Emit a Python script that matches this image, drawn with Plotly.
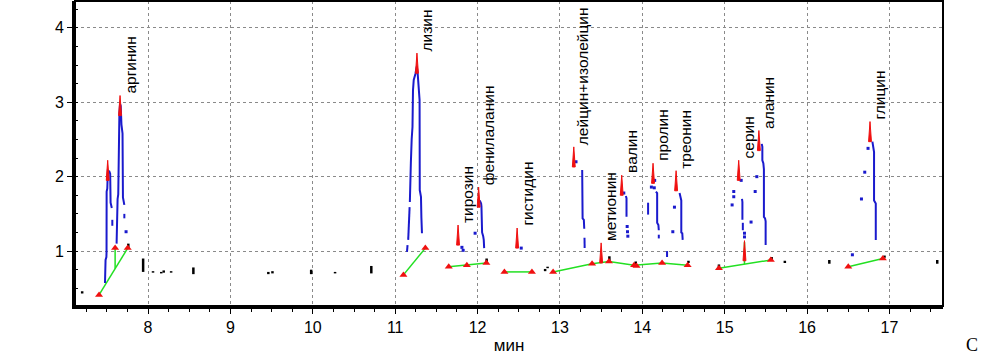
import numpy as np
import plotly.graph_objects as go

# ---------------- data ----------------
labels = ["аргинин", "лизин", "тирозин", "фенилаланин", "гистидин", "лейцин+изолейцин",
          "метионин", "валин", "пролин", "треонин", "серин", "аланин", "глицин"]
label_t = [7.66, 11.264, 11.763, 12.013, 12.48, 13.168, 13.50, 13.75, 14.13, 14.41, 15.17, 15.415, 16.764]
label_y = [3.09, 3.66, 1.35, 1.86, 1.31, 2.40, 1.11, 2.02, 2.18, 2.08, 2.22, 2.62, 2.74]

# unlabelled apex spikes
extra_spike_t = [7.51, 15.24]
extra_spike_y = [2.22, 1.14]

# blue detector traces
arg1_t = [7.477, 7.480, 7.484, 7.494, 7.496, 7.497, 7.505, 7.508, 7.512, 7.53, 7.54, 7.545, 7.55, 7.56, None, 7.566, 7.566]
arg1_y = [0.57, 0.75, 0.88, 0.92, 0.99, 1.80, 1.84, 1.95, 2.08, 2.07, 2.04, 1.65, 1.62, 1.58, None, 1.42, 1.34]
arg2_t = [7.618, 7.622, 7.63, 7.638, 7.645, 7.652, 7.66, 7.668, 7.677, 7.685, 7.69, 7.695, 7.705, 7.712, None, 7.712, 7.712]
arg2_y = [1.10, 1.62, 1.70, 1.76, 2.60, 2.85, 2.98, 2.95, 2.70, 2.62, 2.58, 1.72, 1.68, 1.62, None, 1.50, 1.44]
liz_t = [11.143, 11.150, None, 11.158, 11.165, 11.175, None, 11.178, 11.183, 11.19, 11.20, 11.21, 11.216, 11.225, 11.245,
         11.256, 11.262, 11.272, 11.285, 11.296, 11.298, 11.306, 11.313, 11.318, 11.325]
liz_y = [0.99, 1.08, None, 1.15, 1.35, 1.59, None, 1.66, 2.04, 2.18, 2.50, 2.67, 3.16, 3.30, 3.38,
         3.43, 3.48, 3.40, 3.25, 3.03, 1.82, 1.78, 1.73, 1.45, 1.24]
phe_t = [12.026, 12.043, 12.047, 12.055, 12.068, 12.075, 12.08]
phe_y = [1.68, 1.64, 1.60, 1.25, 1.20, 1.15, 1.04]
leu_t = [13.27, 13.275, 13.29, 13.295, None, 13.298, 13.30]
leu_y = [2.09, 1.44, 1.42, 1.30, None, 1.18, 1.04]
val_t = [13.80, 13.808, 13.808]
val_y = [1.74, 1.71, 1.46]
pro_t = [14.165, 14.18, 14.18, 14.195, 14.20, None, 14.20, 14.20, None, 14.07, 14.07, None, 14.30, 14.30]
pro_y = [1.80, 1.78, 1.38, 1.35, 1.28, None, 1.22, 1.17, None, 1.65, 1.49, None, 0.92, 1.00]
thr_t = [14.452, 14.462, 14.473, 14.473, 14.485, 14.49]
thr_y = [1.78, 1.72, 1.68, 1.25, 1.24, 1.15]
ser_t = [15.21, 15.215, 15.215, None, 15.22, 15.22]
ser_y = [1.70, 1.66, 1.42, None, 1.38, 1.28]
ala_t = [15.45, 15.457, 15.457, 15.469, 15.476, 15.476, 15.49, 15.497, 15.497]
ala_y = [2.44, 2.40, 2.22, 2.18, 2.10, 1.46, 1.44, 1.40, 1.08]
gly_t = [16.793, 16.80, 16.813, 16.813, 16.825, 16.834, 16.834]
gly_y = [2.47, 2.40, 2.33, 1.68, 1.66, 1.64, 1.15]

# isolated blue points
dot_t = [7.733, 11.81, 11.825, 11.97, 12.53, 13.195, 13.775, 13.816, 13.82, 13.824, 14.15, 14.11, 14.145,
         14.39, 14.37, 15.20, 15.11, 15.11, 15.09, 15.32, 15.37, 15.39, 15.24, 15.24,
         16.74, 16.70, 16.66, 16.55]
dot_y = [1.26, 1.05, 1.01, 1.24, 1.04, 2.20, 1.78, 1.33, 1.26, 1.20, 1.95, 1.86, 1.85,
         1.59, 1.26, 1.95, 1.80, 1.73, 1.62, 1.39, 1.80, 2.00, 1.24, 1.19,
         2.38, 2.06, 1.70, 0.95]

# green baselines (each a polyline)
base1_t, base1_y = [7.405, 7.753], [0.41, 1.04]
base2_t, base2_y = [11.10, 11.366], [0.68, 1.04]
base3_t, base3_y = [11.65, 11.87, 12.107], [0.79, 0.81, 0.84]
base4_t, base4_y = [12.326, 12.66], [0.72, 0.72]
base5_t, base5_y = [12.917, 13.39, 13.595, 13.90, 14.24, 14.55], [0.72, 0.83, 0.86, 0.81, 0.84, 0.81]
base6_t, base6_y = [14.93, 15.56], [0.77, 0.88]
base7_t, base7_y = [16.50, 16.92], [0.79, 0.90]

# drop lines from valley to baseline
drop_t = [7.60, 15.24]
drop_top = [1.04, 1.12]

# extra red baseline marks
extra_tri_t = [7.60, 13.93]
extra_tri_y = [1.04, 0.80]

# black noise marks (t, low, high)
noise_t = [7.20, 7.76, 7.94, 8.06, 8.16, 8.19, 8.28, 8.55, 9.46, 9.51, 9.98, 10.27, 10.71, 12.11,
           12.82, 12.85, 13.60, 13.92, 14.56, 14.93, 15.57, 15.73, 16.27, 16.94, 17.58]
noise_lo = [0.43, 1.03, 0.72, 0.71, 0.70, 0.71, 0.71, 0.69, 0.69, 0.70, 0.69, 0.70, 0.70, 0.84,
            0.73, 0.77, 0.87, 0.80, 0.84, 0.78, 0.88, 0.84, 0.83, 0.91, 0.83]
noise_hi = [0.46, 1.10, 0.90, 0.73, 0.72, 0.74, 0.73, 0.78, 0.72, 0.73, 0.75, 0.72, 0.80, 0.90,
            0.76, 0.79, 0.93, 0.86, 0.87, 0.82, 0.92, 0.87, 0.88, 0.94, 0.88]

x_ticks = [8, 9, 10, 11, 12, 13, 14, 15, 16, 17]
y_ticks = [1, 2, 3, 4]

# ---------------- style ----------------
BLUE = "#1a1acd"
RED = "#f01010"
GREEN = "#22e022"
FONT = "Arial, Liberation Sans, sans-serif"
SPIKE_W = 0.035
SPIKE_H = 0.27

fig = go.Figure()

# baselines
baselines = [(base1_t, base1_y), (base2_t, base2_y), (base3_t, base3_y), (base4_t, base4_y),
             (base5_t, base5_y), (base6_t, base6_y), (base7_t, base7_y)]
gt, gy = [], []
for bt, by in baselines:
    gt += bt + [None]
    gy += by + [None]
# drop lines
for dt, dtop in zip(drop_t, drop_top):
    for bt, by in baselines:
        if bt[0] <= dt <= bt[-1]:
            gt += [dt, dt, None]
            gy += [float(np.interp(dt, bt, by)), dtop, None]
fig.add_trace(go.Scatter(x=gt, y=gy, mode="lines", line=dict(color=GREEN, width=1.5), hoverinfo="skip"))

# black noise
nt, ny = [], []
for t, lo, hi in zip(noise_t, noise_lo, noise_hi):
    nt += [t, t, None]
    ny += [lo, hi, None]
fig.add_trace(go.Scatter(x=nt, y=ny, mode="lines", line=dict(color="black", width=2.5), hoverinfo="skip"))

# blue traces
for bt, by in [(arg1_t, arg1_y), (arg2_t, arg2_y), (liz_t, liz_y), (phe_t, phe_y), (leu_t, leu_y),
               (val_t, val_y), (pro_t, pro_y), (thr_t, thr_y), (ser_t, ser_y), (ala_t, ala_y), (gly_t, gly_y)]:
    fig.add_trace(go.Scatter(x=bt, y=by, mode="lines", line=dict(color=BLUE, width=2), hoverinfo="skip",
                             connectgaps=False))
fig.add_trace(go.Scatter(x=dot_t, y=dot_y, mode="markers",
                         marker=dict(color=BLUE, size=3, symbol="square"), hoverinfo="skip"))

# red baseline triangles
tri_t, tri_y = [], []
for bt, by in baselines:
    tri_t += bt
    tri_y += by
tri_t += extra_tri_t
tri_y += extra_tri_y
fig.add_trace(go.Scatter(x=tri_t, y=tri_y, mode="markers",
                         marker=dict(color=RED, size=7, symbol="triangle-up", line=dict(width=0)),
                         hoverinfo="skip"))

# red apex spikes (narrow triangles)
st, sy = [], []
for t, y in zip(label_t + extra_spike_t, label_y + extra_spike_y):
    st += [t, t - SPIKE_W / 2, t + SPIKE_W / 2, t, None]
    sy += [y, y - SPIKE_H, y - SPIKE_H, y, None]
fig.add_trace(go.Scatter(x=st, y=sy, mode="lines", fill="toself", fillcolor=RED,
                         line=dict(color=RED, width=1), hoverinfo="skip"))

# labels
for name, t, y in zip(labels, label_t, label_y):
    fig.add_annotation(x=t, y=y, text=name, textangle=-90, showarrow=False,
                       xanchor="left", yanchor="bottom", xshift=-1, yshift=0,
                       font=dict(family=FONT, size=15.5, color="black"))

fig.add_annotation(xref="paper", yref="paper", x=1.033, y=-0.128, text="C", showarrow=False,
                   xanchor="center", yanchor="middle",
                   font=dict(family="Liberation Serif, Times New Roman, serif", size=18, color="black"))

# frame (top/right thinner)
fig.add_shape(type="rect", xref="paper", yref="paper", x0=0, y0=0, x1=1, y1=1,
              line=dict(color="black", width=2), layer="above")

axis_common = dict(showgrid=True, gridcolor="#8a8a8a", griddash="dot", gridwidth=1,
                   showline=True, linecolor="black", linewidth=3, zeroline=False,
                   ticks="outside", ticklen=5, tickcolor="black", tickwidth=1,
                   tickfont=dict(family=FONT, size=16, color="black"))

fig.update_layout(
    width=983, height=355,
    margin=dict(l=75, r=40, t=1, b=49),
    plot_bgcolor="white", paper_bgcolor="white",
    showlegend=False,
    xaxis=dict(range=[7.113, 17.65], tickvals=x_ticks,
               minor=dict(dtick=0.25, tick0=8, ticks="outside", ticklen=3, tickcolor="black", showgrid=False),
               title=dict(text="мин", font=dict(family=FONT, size=17, color="black"), standoff=7),
               **axis_common),
    yaxis=dict(range=[0.262, 4.36], tickvals=y_ticks,
               minor=dict(dtick=0.25, tick0=1, ticks="inside", ticklen=3, tickcolor="black", showgrid=False),
               **axis_common),
)

fig.write_html("out.html", config={"displayModeBar": False},
               post_script="document.body.style.margin='0';document.body.style.overflow='hidden';")
